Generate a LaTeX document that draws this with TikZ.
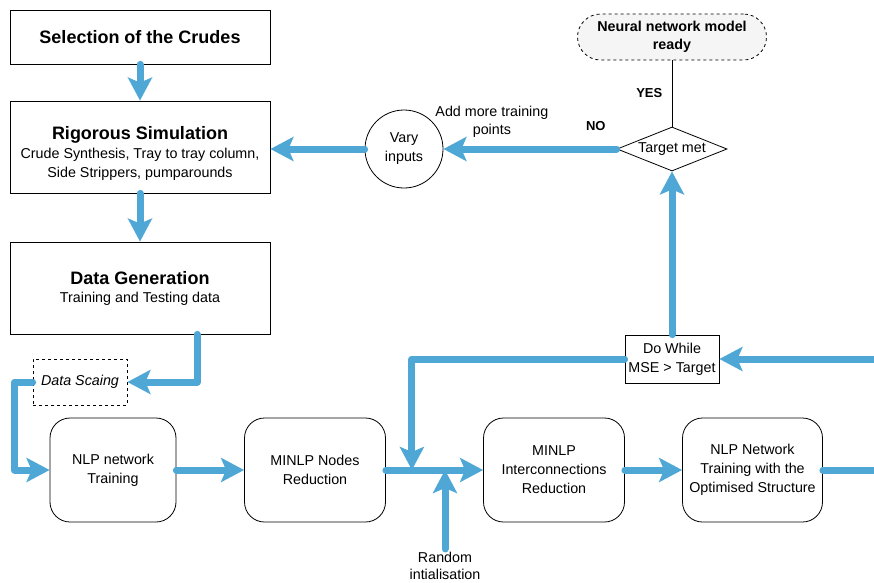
\documentclass[tikz,border=0pt]{standalone}
\usepackage{fontspec}
\setmainfont{Liberation Sans}
\usetikzlibrary{shapes.geometric,arrows.meta,positioning}
\definecolor{flowblue}{RGB}{79,167,214}
\tikzset{
block/.style = {draw, fill=white, rectangle, line width=0.8pt, minimum width=260pt, minimum height=92pt, align=center},
task/.style = {draw, fill=white, rectangle, rounded corners=20pt, line width=0.8pt, minimum width=141pt, minimum height=104pt, align=center},
scaling/.style = {draw, dashed, rectangle, line width=0.8pt, minimum width=94pt, minimum height=46pt, font=\fontsize{14.3}{18}\selectfont\itshape},
check/.style = {draw, fill=white, rectangle, line width=0.8pt, minimum width=94pt, minimum height=48pt, inner sep=2pt, align=center},
decision/.style = {draw, fill=white, diamond, aspect=2.5, line width=0.8pt, inner sep=0pt, minimum width=110pt, minimum height=44pt},
vary/.style = {draw, fill=white, circle, line width=0.8pt, minimum size=78pt, inner sep=0pt, align=center},
ready/.style = {draw, dashed, fill=gray!8, rectangle, rounded corners=23pt, line width=0.8pt, minimum width=189pt, minimum height=46pt, align=center, font=\fontsize{14.3}{18}\selectfont\bfseries},
flow/.style = {draw=flowblue, line width=7pt, line cap=round, line join=round},
title/.style = {font=\fontsize{18}{20}\selectfont\bfseries}
}

\begin{document}
\begin{tikzpicture}[x=1pt, y=-1pt, >={Stealth[length=23pt,width=24pt,inset=5pt]},
    font=\fontsize{14.3}{19}\selectfont]
    \useasboundingbox (0,0) rectangle (874,582);
    % Left column: preparing the data
    \node [block, minimum height=54pt, title] at (140,37) (crudes) {Selection of the Crudes};
    \node [block, below of=crudes, node distance=110pt, text height=64pt] (sim)
        {{\fontsize{18}{20}\selectfont\bfseries Rigorous Simulation}\\[0pt]
         Crude Synthesis, Tray to tray column,\\ Side Strippers, pumparounds};
    \node [block, below of=sim, node distance=141pt] (gen)
        {{\fontsize{18}{20}\selectfont\bfseries Data Generation}\\[-1pt]
         Training and Testing data};
    \node [scaling] at (80,382) (scale) {Data Scaing};

    % Bottom row: training and reduction steps
    \node [task, minimum width=126pt] at (113,470) (nlp) {NLP network\\Training};
    \node [task, right of=nlp, node distance=202pt] (nodes) {MINLP Nodes\\Reduction};
    \node [task, right of=nodes, node distance=239pt] (inter) {MINLP\\Interconnections\\Reduction};
    \node [task, right of=inter, node distance=198.5pt, minimum width=140pt] (nlpnet)
        {NLP Network\\Training with the\\Optimised Structure};
    \node [align=center, font=\fontsize{14.3}{16.5}\selectfont] at (445,566) (rand) {Random\\intialisation};

    % Loop back and stopping test
    \node [check] at (672,359) (dowhile) {Do While\\MSE > Target};
    \node [decision] at (672,149) (target) {Target met};
    \node [ready] at (672,37) (readynn) {Neural network model\\ready};
    \node [vary] at (404,149) (varyin) {Vary\\inputs};
    \coordinate (loopend) at (874,470);
    \coordinate (loopback) at (874,359);

    % Connectors
    \draw [flow,->] (crudes) -- (sim);
    \draw [flow,->] (sim) -- (gen);
    \draw [flow,->] ([xshift=57pt]gen.south) |- (scale.east);
    \draw [flow,->] (scale.west) -- ++(-18,0) |- (nlp.west);
    \draw [flow,->] (nlp) -- (nodes);
    \draw [flow,->] (nodes) -- (inter);
    \draw [flow,->] (dowhile.west) -| ([xshift=26pt]nodes.east);
    \draw [flow,->] (rand.north) -- (rand.north |- nodes.east);
    \draw [flow,->] (inter) -- (nlpnet);
    \draw [flow] (nlpnet.east) -- (loopend);
    \draw [flow,->] (loopback) -- (dowhile.east);
    \draw [flow,->] (dowhile) -- (target);
    \draw [line width=0.8pt] (target.north) -- node [left=6pt, font=\fontsize{13}{15}\selectfont\bfseries] {YES} (readynn.south);
    \draw [flow,->] (target.west) -- node [pos=0.12, above=12pt, font=\fontsize{13}{15}\selectfont\bfseries] {NO}
        node [pos=0.72, above=5pt, align=center, font=\fontsize{14.3}{18}\selectfont] {Add more training\\points} (varyin.east);
    \draw [flow,->] (varyin.west) -- (varyin.west -| sim.east);
\end{tikzpicture}
\end{document}
